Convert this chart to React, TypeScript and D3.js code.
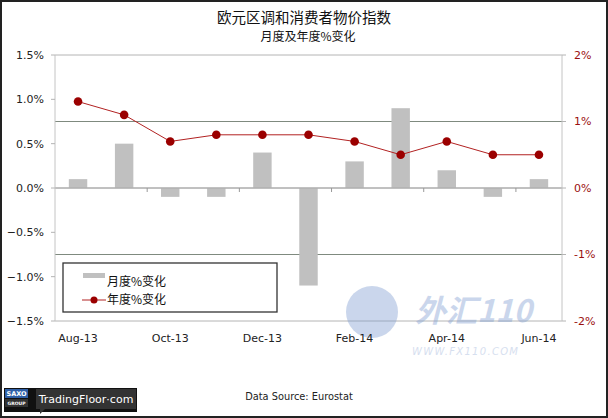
import * as d3 from 'd3'

const months = ['Aug-13', 'Sep-13', 'Oct-13', 'Nov-13', 'Dec-13', 'Jan-14', 'Feb-14', 'Mar-14', 'Apr-14', 'May-14', 'Jun-14']
const monthlyChange = [0.1, 0.5, -0.1, -0.1, 0.4, -1.1, 0.3, 0.9, 0.2, -0.1, 0.1]
const annualChange = [1.3, 1.1, 0.7, 0.8, 0.8, 0.8, 0.7, 0.5, 0.7, 0.5, 0.5]
const leftTicks = [-1.5, -1.0, -0.5, 0.0, 0.5, 1.0, 1.5]
const rightTicks = [-2, -1, 0, 1, 2]
const labelMonths = ['Aug-13', 'Oct-13', 'Dec-13', 'Feb-14', 'Apr-14', 'Jun-14']

const W = 608
const H = 418
const plot = { left: 55, right: 562, top: 55, bottom: 321 }
const latin = 'DejaVu Sans, Verdana, sans-serif'
const cjk = 'Noto Sans CJK SC, sans-serif'
const darkRed = '#9a1010'

export default function App() {
  const x = d3.scaleBand<string>().domain(months).range([plot.left, plot.right]).padding(0)
  const yL = d3.scaleLinear().domain([-1.5, 1.5]).range([plot.bottom, plot.top])
  const yR = d3.scaleLinear().domain([-2, 2]).range([plot.bottom, plot.top])
  const bw = x.bandwidth() * 0.4
  const cx = (m: string) => (x(m) as number) + x.bandwidth() / 2

  const line = d3.line<number>()
    .x((_, i) => cx(months[i]))
    .y(d => yR(d))

  const zero = yL(0)

  return (
    <svg width={W} height={H} style={{ position: 'absolute', left: 0, top: 0, background: '#fff' }}>
      <rect x={1} y={1} width={W - 2} height={H - 2} fill="#fff" stroke="#222" strokeWidth={2} />

      <text x={304} y={23} textAnchor="middle" fontFamily={cjk} fontSize={14.5} fill="#111">欧元区调和消费者物价指数</text>
      <text x={308} y={41} textAnchor="middle" fontFamily={cjk} fontSize={12} fill="#111">月度及年度%变化</text>

      {/* right axis grid lines */}
      {rightTicks.map(t => (
        <line key={'g' + t} x1={plot.left} x2={plot.right} y1={yR(t)} y2={yR(t)}
          stroke={t === 1 || t === -1 ? '#7f8a7f' : '#b4b4b4'} strokeWidth={1} />
      ))}

      {/* bars */}
      {months.map((m, i) => {
        const v = monthlyChange[i]
        return (
          <rect key={m} x={cx(m) - bw / 2} y={Math.min(yL(v), zero)} width={bw}
            height={Math.abs(yL(v) - zero)} fill="#c0c0c0" />
        )
      })}

      {/* x axis */}
      <line x1={plot.left} x2={plot.right} y1={zero} y2={zero} stroke="#a8a8a8" />
      {months.map((m, i) => (i > 0 && i % 2 === 0 ? (
        <line key={'t' + m} x1={x(m)} x2={x(m)} y1={zero} y2={zero + 4} stroke="#999" />
      ) : null))}

      {/* left axis */}
      <line x1={plot.left} x2={plot.left} y1={plot.top} y2={plot.bottom} stroke="#c4c4c4" />
      {leftTicks.map(t => (
        <g key={'l' + t}>
          <line x1={plot.left - 4} x2={plot.left} y1={yL(t)} y2={yL(t)} stroke="#b4b4b4" />
          <text x={44} y={yL(t)} dy="0.35em" textAnchor="end" fontFamily={latin} fontSize={11} fill="#222">
            {d3.format('.1f')(t) + '%'}
          </text>
        </g>
      ))}

      {/* right axis */}
      <line x1={plot.right} x2={plot.right} y1={plot.top} y2={plot.bottom} stroke="#c4c4c4" />
      {rightTicks.map(t => (
        <g key={'r' + t}>
          <line x1={plot.right} x2={plot.right + 4} y1={yR(t)} y2={yR(t)} stroke="#b4b4b4" />
          <text x={574} y={yR(t)} dy="0.35em" fontFamily={latin} fontSize={11} fill={darkRed}>
            {t + '%'}
          </text>
        </g>
      ))}

      {/* watermark */}
      <g opacity={0.4}>
        <circle cx={372} cy={312} r={26} fill="#7d9bd0" />
        <text x={415} y={322} fontFamily={cjk} fontSize={31} fontWeight="bold" fontStyle="italic" fill="#7d9bd0">外汇110</text>
        <text x={412} y={351} dy="0.35em" fontFamily={latin} fontSize={10} fontStyle="italic" fill="#9ab0d8" letterSpacing={1.3}>WWW.FX110.COM</text>
      </g>

      {/* annual line */}
      <path d={line(annualChange) ?? ''} fill="none" stroke="#b22222" strokeWidth={1} />
      {annualChange.map((v, i) => (
        <circle key={'c' + i} cx={cx(months[i])} cy={yR(v)} r={4.3} fill="#9b0000" />
      ))}

      {/* x labels */}
      {labelMonths.map(m => (
        <text key={'x' + m} x={cx(m)} y={338} dy="0.35em" textAnchor="middle" fontFamily={latin} fontSize={11} fill="#222">{m}</text>
      ))}

      {/* legend */}
      <rect x={63} y={263} width={214} height={49} fill="#fff" stroke="#333" strokeWidth={1.3} />
      <rect x={83} y={273} width={22} height={5} fill="#c0c0c0" />
      <text x={107} y={282} dy="0.35em" fontFamily={cjk} fontSize={12} fill="#111">月度%变化</text>
      <line x1={82} x2={106} y1={300} y2={300} stroke="#b22222" strokeWidth={1} />
      <circle cx={94} cy={300} r={3.5} fill="#9b0000" />
      <text x={107} y={300} dy="0.35em" fontFamily={cjk} fontSize={12} fill="#111">年度%变化</text>

      <text x={299} y={397} dy="0.35em" textAnchor="middle" fontFamily={latin} fontSize={9.8} fill="#222">Data Source: Eurostat</text>

      {/* logo */}
      <rect x={4} y={388} width={133} height={24} fill="#111" />
      <rect x={5} y={389} width={23} height={9} fill="#2f5fa6" />
      <text x={16.5} y={393.5} dy="0.35em" textAnchor="middle" fontFamily={latin} fontSize={6.5} fontWeight="bold" fill="#fff">SAXO</text>
      <rect x={5} y={399} width={23} height={8} fill="#333" />
      <text x={16.5} y={403} dy="0.35em" textAnchor="middle" fontFamily={latin} fontSize={4.5} fontWeight="bold" fill="#fff">GROUP</text>
      <rect x={36} y={389} width={100} height={20} fill="#333" />
      <path d="M40,409 L40,414 L45,409 Z" fill="#333" />
      <text x={86} y={399} dy="0.35em" textAnchor="middle" fontFamily={latin} fontSize={11} fill="#fff">TradingFloor·com</text>
    </svg>
  )
}
